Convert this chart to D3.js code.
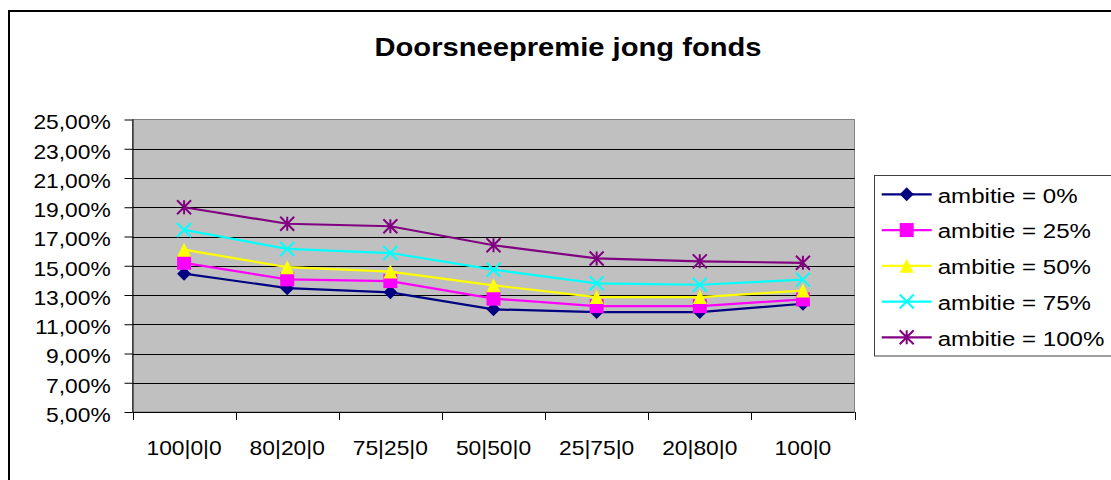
<!DOCTYPE html>
<html><head><meta charset="utf-8">
<script src="https://cdn.jsdelivr.net/npm/d3@7"></script>
<style>html,body{margin:0;padding:0;background:#fff;overflow:hidden}svg{display:block}</style>
</head><body>
<script>
const categories = ["100|0|0","80|20|0","75|25|0","50|50|0","25|75|0","20|80|0","100|0"];
const seriesNames = ["ambitie = 0%","ambitie = 25%","ambitie = 50%","ambitie = 75%","ambitie = 100%"];
const amb0   = [0.1446,0.1347,0.1318,0.1202,0.1183,0.1183,0.1240];
const amb25  = [0.1520,0.1407,0.1395,0.1275,0.1224,0.1224,0.1270];
const amb50  = [0.1610,0.1490,0.1460,0.1366,0.1286,0.1286,0.1330];
const amb75  = [0.1745,0.1615,0.1587,0.1473,0.1380,0.1370,0.1405];
const amb100 = [0.1900,0.1787,0.1770,0.1640,0.1550,0.1530,0.1520];
const yTicks = [0.05,0.07,0.09,0.11,0.13,0.15,0.17,0.19,0.21,0.23,0.25];
const title = "Doorsneepremie jong fonds";

const seriesValues = [amb0, amb25, amb50, amb75, amb100];
const colors = ["#000080","#FF00FF","#FFFF00","#00FFFF","#800080"];
const markers = ["diamond","square","triangle","x","star"];

const W = 1111, H = 480;
const SX = 1.14;
const svg = d3.select("body").append("svg").attr("width", W).attr("height", H);
const font = "'Liberation Sans', Arial, sans-serif";

// outer border
svg.append("rect").attr("x", 9).attr("y", 11).attr("width", 1130).attr("height", 500)
  .attr("fill", "#fff").attr("stroke", "#000").attr("stroke-width", 2);

const L = 132.5, R = 854.5, T = 119.5, B = 412;
const x = d3.scaleBand().domain(categories).range([L, R]);
const y = d3.scaleLinear().domain([0.05, 0.25]).range([B, T]);
const loc = d3.formatLocale({decimal: ",", thousands: ".", grouping: [3], currency: ["€",""]});
const fmt = loc.format(".2%");

// title
svg.append("text").attr("transform", `translate(568,55.7) scale(1.13,1)`)
  .attr("text-anchor", "middle").attr("font-family", font).attr("font-weight", "bold")
  .attr("font-size", 25.8).text(title);

// plot area
svg.append("rect").attr("x", L).attr("y", T).attr("width", R - L).attr("height", B - T)
  .attr("fill", "#C0C0C0").attr("stroke", "#808080").attr("stroke-width", 1);

// gridlines
svg.append("g").selectAll("line").data(yTicks.slice(1, -1)).join("line")
  .attr("x1", L).attr("x2", R)
  .attr("y1", d => Math.round(y(d)) + 0.5).attr("y2", d => Math.round(y(d)) + 0.5)
  .attr("stroke", "#000").attr("stroke-width", 1);

// y axis
const yAxis = d3.axisLeft(y).tickValues(yTicks).tickSize(8).tickFormat(fmt);
const gy = svg.append("g").attr("transform", `translate(${L},0)`).call(yAxis);
gy.select(".domain").attr("stroke", "#000").attr("d", `M0.5,${T}V${B}`);
gy.selectAll(".tick line").attr("stroke", "#000");
gy.selectAll(".tick text").attr("x", null).attr("dy", null)
  .attr("transform", `translate(-21.8,9.3) scale(${SX},1)`)
  .attr("font-family", font).attr("font-size", 20).attr("fill", "#000");

// x axis
const xAxis = d3.axisBottom(x).tickSize(0).tickFormat(d => d);
const gx = svg.append("g").attr("transform", `translate(0,${B})`).call(xAxis);
gx.select(".domain").attr("stroke", "#000").attr("d", `M${L},0.5H${R}`);
gx.selectAll(".tick text").attr("y", null).attr("dy", null)
  .attr("transform", `translate(0,42.5) scale(${SX},1)`)
  .attr("font-family", font).attr("font-size", 20).attr("fill", "#000");
// boundary ticks
const bounds = categories.map(c => x(c)).concat([R]);
svg.append("g").selectAll("line").data(bounds).join("line")
  .attr("x1", d => Math.round(d) + 0.5).attr("x2", d => Math.round(d) + 0.5)
  .attr("y1", B).attr("y2", B + 8).attr("stroke", "#000");

function drawMarker(g, type, color, cx, cy) {
  const s = 7;
  if (type === "diamond") {
    g.append("path").attr("d", `M${cx},${cy - s}L${cx + s},${cy}L${cx},${cy + s}L${cx - s},${cy}Z`).attr("fill", color);
  } else if (type === "square") {
    g.append("rect").attr("x", cx - s).attr("y", cy - s).attr("width", 2 * s).attr("height", 2 * s).attr("fill", color);
  } else if (type === "triangle") {
    g.append("path").attr("d", `M${cx},${cy - s}L${cx + s},${cy + s}L${cx - s},${cy + s}Z`).attr("fill", color);
  } else if (type === "x") {
    g.append("path").attr("d", `M${cx - s},${cy - s}L${cx + s},${cy + s}M${cx + s},${cy - s}L${cx - s},${cy + s}`)
      .attr("stroke", color).attr("stroke-width", 2).attr("fill", "none");
  } else if (type === "star") {
    g.append("path").attr("d", `M${cx - s},${cy - s}L${cx + s},${cy + s}M${cx + s},${cy - s}L${cx - s},${cy + s}M${cx},${cy - s}L${cx},${cy + s}`)
      .attr("stroke", color).attr("stroke-width", 2).attr("fill", "none");
  }
}

const line = d3.line().x((d, i) => x(categories[i]) + x.bandwidth() / 2).y(d => y(d));
seriesValues.forEach((vals, si) => {
  const g = svg.append("g");
  g.append("path").datum(vals).attr("d", line).attr("fill", "none")
    .attr("stroke", colors[si]).attr("stroke-width", 2.2);
  vals.forEach((v, i) => drawMarker(g, markers[si], colors[si], x(categories[i]) + x.bandwidth() / 2, y(v)));
});

// legend
const lg = svg.append("g");
lg.append("rect").attr("x", 874.5).attr("y", 175.5).attr("width", 240).attr("height", 180.5)
  .attr("fill", "#fff").attr("stroke", "#404040").attr("stroke-width", 1);
const rowY = d3.scalePoint().domain(seriesNames).range([194.3, 337.3]);
seriesNames.forEach((name, si) => {
  const cy = rowY(name);
  lg.append("line").attr("x1", 881.7).attr("x2", 931.7).attr("y1", cy).attr("y2", cy)
    .attr("stroke", colors[si]).attr("stroke-width", 2.2);
  drawMarker(lg, markers[si], colors[si], 906.7, cy);
  lg.append("text").attr("transform", `translate(937.7,${cy + 8.4}) scale(1.17,1)`)
    .attr("font-family", font).attr("font-size", 20.6).attr("fill", "#000").text(name);
});
</script>
</body></html>
